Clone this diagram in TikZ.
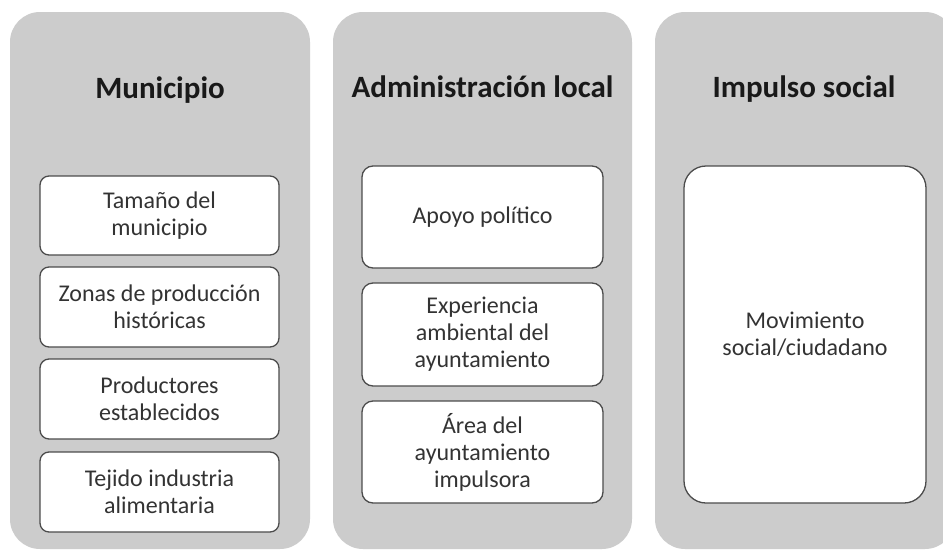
\documentclass[tikz,border=0pt]{standalone}
\usepackage{fontspec}
\setmainfont{Carlito}
\begin{document}
\begin{tikzpicture}[x=1pt,y=-1pt,
  panel/.style={draw=none,fill=black!20,rounded corners=30pt,inner sep=0pt},
  title/.style={font=\fontsize{31}{36}\selectfont\bfseries,text=black!90},
  item/.style={draw=black!70,line width=1.3pt,fill=white,rounded corners=9pt,inner sep=0pt,
    align=center,font=\fontsize{24}{27}\selectfont,text=black!80},
]
\useasboundingbox (0,0) rectangle (943,552);
\fill[white] (0,0) rectangle (943,552);
% panels
\node[panel,minimum width=300pt,minimum height=537pt] (p1) at (160,280.5) {};
\node[panel,minimum width=299pt,minimum height=537pt] (p2) at (482.5,280.5) {};
\node[panel,minimum width=300pt,minimum height=537pt] (p3) at (805,280.5) {};
% titles
\node[title] (t1) at (160,90) {Municipio};
\node[title] (t2) at (482.5,87) {Administración local};
\node[title] (t3) at (804,89) {Impulso social};
% panel 1 items
\node[item,minimum width=239pt,minimum height=79pt] (m1) at (159.5,215.5) {Tamaño del\\municipio};
\node[item,minimum width=239pt,minimum height=80pt] (m2) at (159.5,307) {Zonas de producción\\históricas};
\node[item,minimum width=239pt,minimum height=80pt] (m3) at (159.5,399) {Productores\\establecidos};
\node[item,minimum width=239pt,minimum height=80pt] (m4) at (159.5,492) {Tejido industria\\alimentaria};
% panel 2 items
\node[item,minimum width=241pt,minimum height=102pt,rounded corners=11pt] (a1) at (482.5,217) {Apoyo político};
\node[item,minimum width=241pt,minimum height=103pt,rounded corners=11pt] (a2) at (482.5,334.5) {Experiencia\\ambiental del\\ayuntamiento};
\node[item,minimum width=241pt,minimum height=102pt,rounded corners=11pt] (a3) at (482.5,452) {Área del\\ayuntamiento\\impulsora};
% panel 3 item
\node[item,minimum width=242pt,minimum height=337pt,rounded corners=22pt] (s1) at (805,334.5) {Movimiento\\social/ciudadano};
\end{tikzpicture}
\end{document}
